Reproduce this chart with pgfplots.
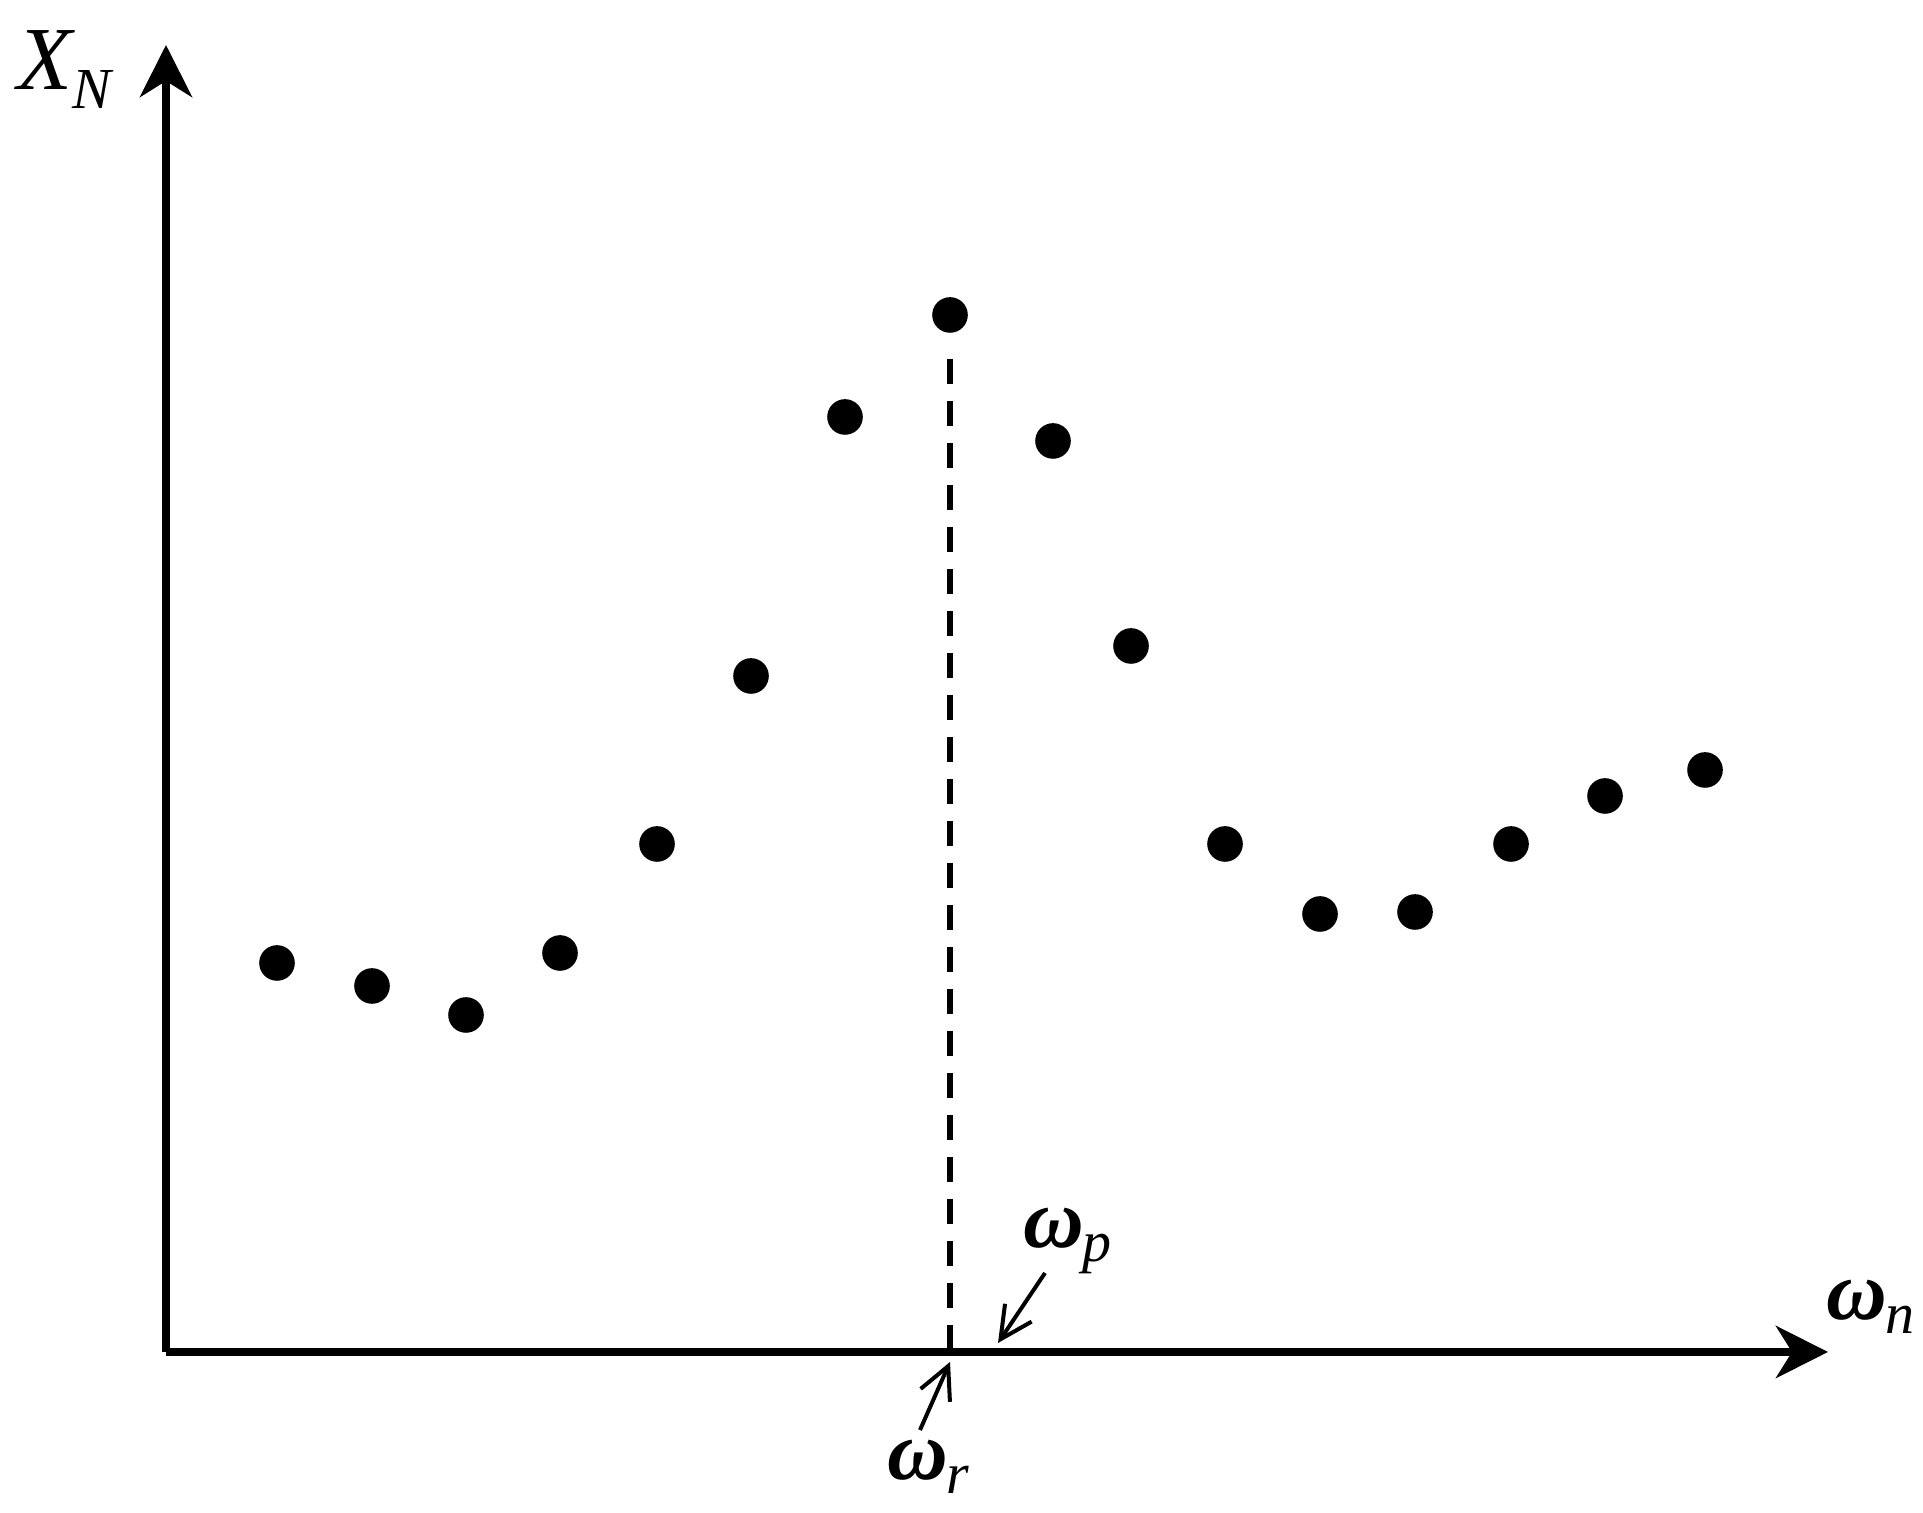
\documentclass[border=0pt]{standalone}
\usepackage{pgfplots}
\pgfplotsset{compat=1.18}
\usepackage{fontspec}
\setmainfont{Liberation Serif}
\usetikzlibrary{arrows.meta}
\newcommand{\om}[1]{{\fontsize{21}{26}\selectfont\bfseries\itshape ω\kern-0.5pt\raisebox{-0.35ex}{\fontsize{14.5}{16}\selectfont\mdseries\itshape #1}}}
\begin{document}
\begin{tikzpicture}
\begin{axis}[
  scale only axis,
  width=415.5pt, height=326.75pt,
  xmin=0, xmax=1662, ymin=0, ymax=1307,
  axis lines=left,
  ticks=none,
  clip=false,
  axis line style={line width=2pt},
  x axis line style={-{Stealth[length=13pt,width=13pt,inset=4pt]}},
  y axis line style={-{Stealth[length=13pt,width=13pt,inset=4pt]}},
]
\addplot[only marks, mark=*, mark size=4.25pt, black] coordinates {
(111,389) (206,366) (300,337) (394,399) (491,508) (585,676) (679,935) (784,1037)
(887,911) (965,706) (1059,508) (1154,438) (1249,440) (1345,508) (1439,556) (1539,582)
};
\addplot[black, line width=1.5pt, dash pattern=on 6.25pt off 4.25pt] coordinates {(784,2) (784,1000)};
\addplot[black, line width=1pt, -{Straight Barb[length=8pt,width=8pt]}] coordinates {(879,79) (832,9)};
\addplot[black, line width=1pt, -{Straight Barb[length=8pt,width=8pt]}] coordinates {(754,-78) (784,-10)};
\node[anchor=base west, inner sep=0pt] at (axis cs:-149,1262) {{\fontsize{22.5}{26}\selectfont\itshape X\raisebox{-0.45ex}{\fontsize{14.5}{16}\selectfont N}}};
\node[anchor=base west, inner sep=0pt] at (axis cs:1660,32) {\om{n}};
\node[anchor=base west, inner sep=0pt] at (axis cs:857,104) {\om{p}};
\node[anchor=base west, inner sep=0pt] at (axis cs:721,-128) {\om{r}};
\coordinate (bl) at (axis cs:-166,-161);
\coordinate (tr) at (axis cs:1757,1352);
\end{axis}
\pgfresetboundingbox
\path (bl) rectangle (tr);
\end{tikzpicture}
\end{document}
